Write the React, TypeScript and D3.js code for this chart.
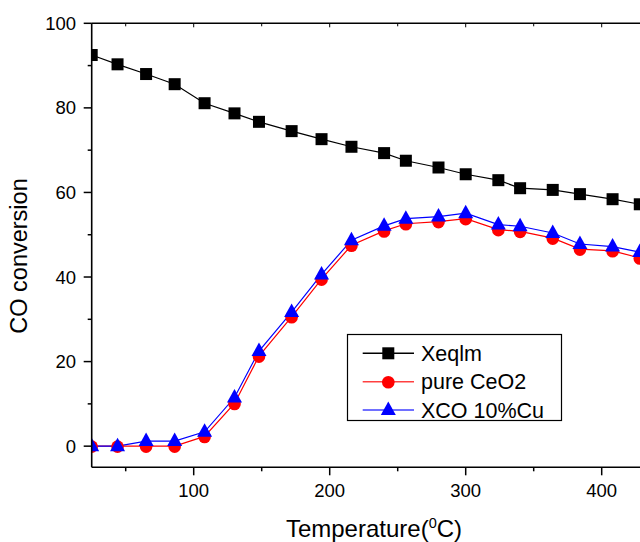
import React from "react";
import * as d3 from "d3";

const temperature = [25, 44, 65, 86, 108, 130, 148, 172, 194, 216, 240, 256, 280, 300, 324, 340, 364, 384, 408, 428];
const xeqlm = [92.5, 90.3, 88.0, 85.6, 81.1, 78.7, 76.7, 74.5, 72.6, 70.8, 69.3, 67.5, 65.9, 64.3, 62.9, 61.0, 60.6, 59.6, 58.4, 57.2];
const pureCeO2 = [0, 0, 0, 0, 2.3, 10.1, 21.3, 30.6, 39.5, 47.5, 50.9, 52.6, 53.1, 53.8, 51.2, 50.8, 49.2, 46.6, 46.2, 44.5];
const xco10Cu = [0, 0, 1.2, 1.2, 3.4, 11.5, 22.5, 31.7, 40.6, 48.7, 52.1, 53.8, 54.3, 55.1, 52.4, 52.0, 50.4, 47.8, 47.2, 45.9];
const xTicksMajor = [100, 200, 300, 400];
const xTicksMinor = [50, 150, 250, 350, 450];
const yTicksMajor = [0, 20, 40, 60, 80, 100];
const yTicksMinor = [10, 30, 50, 70, 90];
const seriesNames = ["Xeqlm", "pure CeO2", "XCO 10%Cu"];

const W = 640, H = 542;
const left = 91.7, top = 23.3, bottom = 467.3;

export default function App() {
  const x = d3.scaleLinear().domain([25, 450]).range([left, left + 425 * 1.36]);
  const y = d3.scaleLinear().domain([-5, 100]).range([bottom, top]);
  const right = x(450);
  const font = "'Liberation Sans', Arial, sans-serif";

  const line = (vals: number[]) =>
    d3.line<number>().x((_, i) => x(temperature[i])).y((v) => y(v))(vals) || "";

  const square = (cx: number, cy: number, k: string | number) => (
    <rect key={k} x={cx - 6} y={cy - 6} width={12} height={12} fill="#000" />
  );
  const circle = (cx: number, cy: number, k: string | number) => (
    <circle key={k} cx={cx} cy={cy + 0.5} r={6.3} fill="#ff0000" />
  );
  const tri = (cx: number, cy: number, k: string | number) => (
    <path key={k} d={`M${cx},${cy - 8.5} L${cx + 7.5},${cy + 5} L${cx - 7.5},${cy + 5} Z`} fill="#0000ff" />
  );

  const legendRows = [
    { name: seriesNames[0], color: "#000", marker: square },
    { name: seriesNames[1], color: "#ff4040", marker: circle },
    { name: seriesNames[2], color: "#4040ff", marker: tri },
  ];

  return (
    <svg width={W} height={H} style={{ position: "absolute", left: 0, top: 0, background: "#fff" }} fontFamily={font}>
      <defs>
        <clipPath id="plot">
          <rect x={left} y={top} width={right - left} height={bottom - top} />
        </clipPath>
      </defs>
      <rect width={W} height={H} fill="#fff" />
      <g clipPath="url(#plot)">
        <path d={line(xeqlm)} fill="none" stroke="#000" strokeWidth={1.2} />
        <path d={line(pureCeO2)} fill="none" stroke="#ff0000" strokeWidth={1.2} />
        <path d={line(xco10Cu)} fill="none" stroke="#0000ff" strokeWidth={1.2} />
        {xeqlm.map((v, i) => square(x(temperature[i]), y(v), "s" + i))}
        {pureCeO2.map((v, i) => circle(x(temperature[i]), y(v), "c" + i))}
        {xco10Cu.map((v, i) => tri(x(temperature[i]), y(v), "t" + i))}
      </g>
      {/* axes */}
      <line x1={left} x2={left} y1={top} y2={bottom} stroke="#000" strokeWidth={1.6} />
      <line x1={left} x2={right} y1={bottom} y2={bottom} stroke="#000" strokeWidth={1.6} />
      <line x1={left} x2={right} y1={top} y2={top} stroke="#000" strokeWidth={1.6} />
      {yTicksMajor.map((t) => (
        <g key={"ym" + t}>
          <line x1={left - 8} x2={left} y1={y(t)} y2={y(t)} stroke="#000" strokeWidth={1.5} />
          <text x={76} y={y(t) + 6.5} textAnchor="end" fontSize={18.5}>{t}</text>
        </g>
      ))}
      {yTicksMinor.map((t) => (
        <line key={"yn" + t} x1={left - 4} x2={left} y1={y(t)} y2={y(t)} stroke="#000" strokeWidth={1.5} />
      ))}
      {xTicksMajor.map((t) => (
        <g key={"xm" + t}>
          <line x1={x(t)} x2={x(t)} y1={bottom} y2={bottom + 8} stroke="#000" strokeWidth={1.5} />
          <line x1={x(t)} x2={x(t)} y1={top} y2={top + 4} stroke="#000" strokeWidth={1} />
          <text x={x(t)} y={497} textAnchor="middle" fontSize={18.5}>{t}</text>
        </g>
      ))}
      {xTicksMinor.map((t) => (
        <g key={"xn" + t}>
          <line x1={x(t)} x2={x(t)} y1={bottom} y2={bottom + 4} stroke="#000" strokeWidth={1.5} />
          <line x1={x(t)} x2={x(t)} y1={top} y2={top + 3} stroke="#000" strokeWidth={1} />
        </g>
      ))}
      {/* axis titles */}
      <text x={374} y={537} textAnchor="middle" fontSize={24}>
        Temperature(<tspan fontSize={14.5} dy={-9.5}>0</tspan><tspan dy={9.5}>C)</tspan>
      </text>
      <text transform={`translate(27,256) rotate(-90)`} textAnchor="middle" fontSize={23.5}>CO conversion</text>
      {/* legend */}
      <rect x={347.5} y={334.5} width={214} height={86} fill="#fff" stroke="#000" strokeWidth={1.2} />
      {legendRows.map((r, i) => {
        const cy = 353.3 + i * 28.4;
        return (
          <g key={"lg" + i}>
            <line x1={362.7} x2={414} y1={cy} y2={cy} stroke={r.color} strokeWidth={1.5} />
            {r.marker(388.3, cy, "lm" + i)}
            <text x={421} y={cy + 7.5} fontSize={21.5}>{r.name}</text>
          </g>
        );
      })}
    </svg>
  );
}
